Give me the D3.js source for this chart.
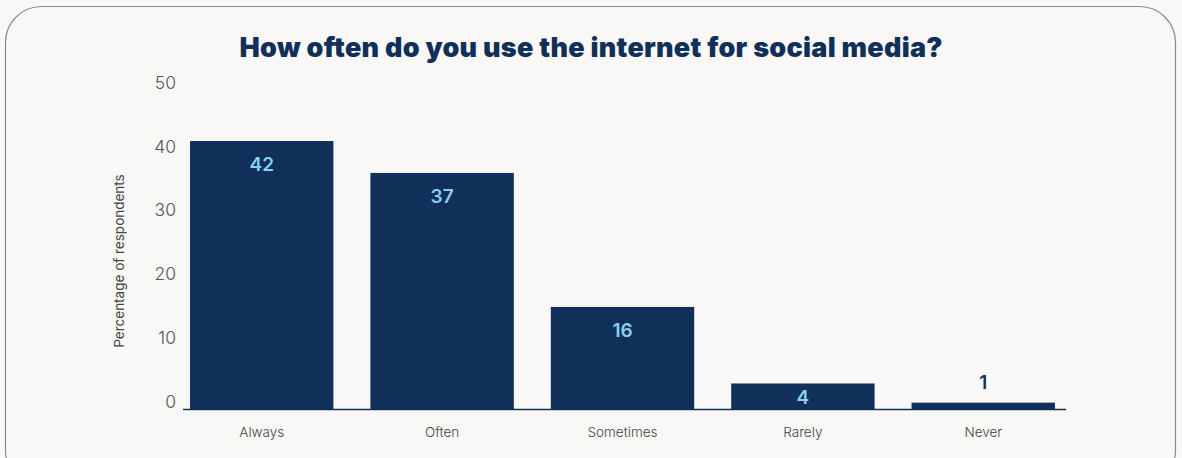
<!DOCTYPE html>
<html>
<head>
<meta charset="utf-8">
<script src="https://cdn.jsdelivr.net/npm/d3@7"></script>
<style>
  html, body { margin: 0; padding: 0; background: #f9f8f6; }
  svg { display: block; }
</style>
</head>
<body>
<svg id="chart" width="1182" height="458"></svg>
<script>
const categories = ["Always", "Often", "Sometimes", "Rarely", "Never"];
const values = [42, 37, 16, 4, 1];
const yTicks = [0, 10, 20, 30, 40, 50];
const title = "How often do you use the internet for social media?";
const yLabel = "Percentage of respondents";

const navy = "#10305a";
const lightBlue = "#8ccdf0";

const svg = d3.select("#chart");

// card frame
svg.append("rect")
  .attr("x", 5.5).attr("y", 6.5)
  .attr("width", 1170).attr("height", 480)
  .attr("rx", 36).attr("ry", 36)
  .attr("fill", "#f9f8f6")
  .attr("stroke", "#8a8a8a")
  .attr("stroke-width", 1.2);

svg.append("text")
  .attr("x", 591).attr("y", 57)
  .attr("text-anchor", "middle")
  .attr("font-family", "Inter, 'Open Sans', sans-serif")
  .attr("font-weight", 900)
  .attr("font-size", 27)
  .attr("textLength", 703)
  .attr("lengthAdjust", "spacing")
  .attr("fill", navy)
  .text(title);

const x = d3.scaleBand()
  .domain(categories)
  .range([172, 1073])
  .paddingInner(0.205)
  .paddingOuter(0.1);

const y = d3.scaleLinear()
  .domain([0, 50])
  .range([409, 90]);

// y tick labels sit just above their gridline positions
const yAxis = d3.axisLeft(y).tickValues(yTicks).tickSize(0).tickPadding(0);
const gy = svg.append("g").attr("transform", "translate(176,0)").call(yAxis);
gy.select(".domain").remove();
gy.selectAll("text")
  .attr("dy", "-0.1em")
  .attr("font-family", "Inter, 'Open Sans', sans-serif")
  .attr("font-weight", 300)
  .attr("font-size", 17.5)
  .attr("fill", "#555555");

svg.append("text")
  .attr("transform", "translate(124,261) rotate(-90)")
  .attr("text-anchor", "middle")
  .attr("font-family", "Inter, 'Open Sans', sans-serif")
  .attr("font-size", 13.5)
  .attr("fill", "#444")
  .text(yLabel);

// bars
svg.append("g").selectAll("rect")
  .data(values)
  .join("rect")
  .attr("x", (d, i) => x(categories[i]))
  .attr("y", d => y(d))
  .attr("width", x.bandwidth())
  .attr("height", d => y(0) - y(d))
  .attr("fill", navy);

// baseline axis
const xAxis = d3.axisBottom(x).tickSize(0).tickPadding(18);
const gx = svg.append("g").attr("transform", "translate(0,409)").call(xAxis);
gx.select(".domain")
  .attr("d", "M183,0.5H1066")
  .attr("stroke", navy)
  .attr("stroke-width", 1.4);
gx.selectAll("text")
  .attr("font-family", "Inter, 'Open Sans', sans-serif")
  .attr("font-weight", 300)
  .attr("font-size", 13.5)
  .attr("fill", "#444");

// value labels: inside tall bars, above very short ones
const inside = d => y(0) - y(d) > 15;
svg.append("g").selectAll("text")
  .data(values)
  .join("text")
  .attr("x", (d, i) => x(categories[i]) + x.bandwidth() / 2)
  .attr("y", d => inside(d)
    ? Math.min(y(d) + 30, (y(d) + y(0)) / 2 + 8)
    : y(d) - 14)
  .attr("text-anchor", "middle")
  .attr("font-family", "Inter, 'Open Sans', sans-serif")
  .attr("font-weight", 600)
  .attr("font-size", 19)
  .attr("fill", d => inside(d) ? lightBlue : navy)
  .text(d => d);
</script>
</body>
</html>
